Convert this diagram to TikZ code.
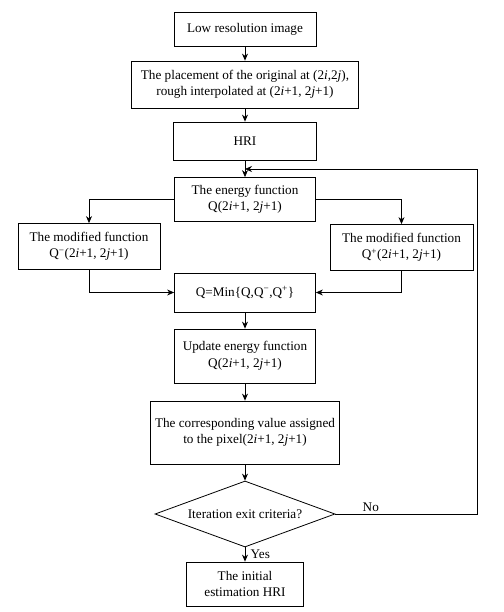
\documentclass[tikz,border=0pt]{standalone}
\usepackage{fontspec}
\setmainfont{Liberation Serif}
\usetikzlibrary{positioning, shapes.geometric, calc, arrows.meta}

\tikzset{
	flowbox/.style={draw, line width=0.8pt, align=center, inner sep=0pt, font=\fontsize{13.2}{16.5}\selectfont},
	flowdia/.style={draw, diamond, shape aspect=2.7, line width=0.8pt, align=center, inner sep=0pt, font=\fontsize{13.2}{16.5}\selectfont},
	arr/.style={line width=0.8pt, -{Stealth[length=7pt,width=6pt]}},
	lbl/.style={font=\fontsize{13.2}{16.5}\selectfont}
}

\begin{document}
\begin{tikzpicture}[x=1pt, y=-1pt]
	\useasboundingbox (0,0) rectangle (503,612);
	% main column
	\node[flowbox, minimum width=142, minimum height=34] (low) at (245,29) {Low resolution image};
	\node[flowbox, minimum width=227, minimum height=47] (place) at (245,84.5) {The placement of the original at (2\textit{i},2\textit{j}),\\ rough interpolated at (2\textit{i}+1, 2\textit{j}+1)};
	\node[flowbox, minimum width=143, minimum height=38] (hri) at (245,141) {HRI};
	\node[flowbox, minimum width=141, minimum height=44] (energy) at (245,199.5) {The energy function\\ Q(2\textit{i}+1, 2\textit{j}+1)};
	% side branches
	\node[flowbox, minimum width=142, minimum height=46] (qminus) at (89,246.5) {The modified function\\ Q\textsuperscript{−}(2\textit{i}+1, 2\textit{j}+1)};
	\node[flowbox, minimum width=143, minimum height=46] (qplus) at (401.5,247.5) {The modified function\\ Q\textsuperscript{+}(2\textit{i}+1, 2\textit{j}+1)};
	\node[flowbox, minimum width=141, minimum height=39] (qmin) at (245,292.5) {Q=Min\{Q,Q\textsuperscript{−},Q\textsuperscript{+}\}};
	\node[flowbox, minimum width=141, minimum height=54] (update) at (245,356) {Update energy function\\ Q(2\textit{i}+1, 2\textit{j}+1)};
	\node[flowbox, minimum width=189, minimum height=63] (assign) at (245,432.5) {The corresponding value assigned\\ to the pixel(2\textit{i}+1, 2\textit{j}+1)};
	\node[flowdia, minimum width=180, minimum height=66] (exit) at (245,514) {Iteration exit criteria?};
	\node[flowbox, minimum width=117, minimum height=44] (final) at (245,584) {The initial\\ estimation HRI};
	% feedback corners
	\coordinate (fbbot) at (477,514);
	\coordinate (fbtop) at (477,169);

	\draw[arr] (low) -- (place);
	\draw[arr] (place) -- (hri);
	\draw[arr] (hri) -- (energy);
	\draw[arr] (energy.west) -| (qminus.north);
	\draw[arr] (energy.east) -| (qplus.north);
	\draw[arr] (qminus.south) |- (qmin.west);
	\draw[arr] (qplus.south) |- (qmin.east);
	\draw[arr] (qmin) -- (update);
	\draw[arr] (update) -- (assign);
	\draw[arr] (assign) -- (exit);
	\draw[arr] (exit) -- node[lbl, right=2pt] {Yes} (final);
	\draw[arr] (exit.east) -- node[lbl, above=-1pt, pos=0.25] {No} (fbbot) -- (fbtop) -- (hri.south |- fbtop);
\end{tikzpicture}
\end{document}
